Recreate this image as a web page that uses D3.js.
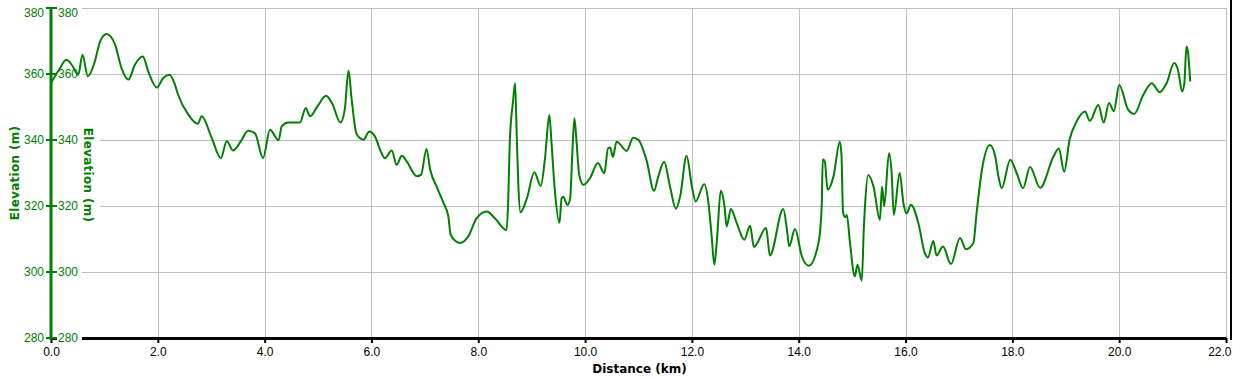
<!DOCTYPE html>
<html>
<head>
<meta charset="utf-8">
<script src="https://cdn.jsdelivr.net/npm/d3@7/dist/d3.min.js"></script>
<style>
  html, body { margin: 0; padding: 0; background: #fff; }
  svg { display: block; }
</style>
</head>
<body>
<svg id="chart" width="1233" height="380"></svg>
<script>
// ---- data ----
const distanceKm = [0.00,0.14,0.29,0.40,0.51,0.59,0.69,0.82,0.92,1.04,1.20,1.32,1.45,1.57,1.72,1.82,1.98,2.10,2.22,2.32,2.38,2.57,2.75,2.82,3.01,3.18,3.29,3.41,3.55,3.69,3.82,3.97,4.10,4.26,4.32,4.44,4.66,4.77,4.85,5.00,5.15,5.26,5.42,5.50,5.57,5.63,5.72,5.85,5.96,6.08,6.16,6.25,6.38,6.47,6.57,6.66,6.85,6.93,7.03,7.10,7.22,7.35,7.44,7.48,7.58,7.66,7.81,7.97,8.16,8.31,8.53,8.56,8.59,8.65,8.69,8.72,8.75,8.79,8.91,9.05,9.17,9.25,9.33,9.37,9.43,9.52,9.56,9.59,9.67,9.72,9.76,9.80,9.84,9.89,9.97,10.09,10.24,10.36,10.43,10.47,10.52,10.59,10.78,10.90,11.00,11.15,11.29,11.37,11.48,11.59,11.70,11.78,11.90,12.00,12.07,12.23,12.31,12.37,12.42,12.47,12.54,12.61,12.65,12.73,12.84,12.98,13.09,13.16,13.39,13.46,13.71,13.78,13.82,13.93,14.06,14.19,14.37,14.43,14.45,14.49,14.54,14.65,14.77,14.80,14.83,14.87,14.90,14.96,15.05,15.10,15.18,15.22,15.24,15.30,15.40,15.52,15.56,15.60,15.69,15.74,15.78,15.89,15.96,16.02,16.10,16.24,16.36,16.42,16.52,16.58,16.70,16.85,17.02,17.13,17.27,17.33,17.43,17.58,17.68,17.74,17.80,17.96,18.08,18.20,18.33,18.52,18.77,18.87,18.97,19.07,19.20,19.36,19.45,19.61,19.71,19.81,19.90,20.00,20.17,20.28,20.45,20.61,20.76,20.89,21.03,21.10,21.18,21.22,21.26,21.29,21.33];
const elevationM = [357.3,361.0,364.3,362.5,359.8,365.8,359.3,363.8,369.9,372.1,368.9,361.8,358.3,362.8,365.3,360.8,355.9,358.8,359.8,356.8,353.7,347.7,344.9,347.2,340.6,334.5,339.6,336.8,339.5,342.8,342.0,334.5,343.1,339.9,344.1,345.3,345.3,349.7,347.2,350.5,353.4,351.2,345.3,349.2,361.0,352.2,341.9,340.1,342.6,340.6,337.1,334.5,336.8,332.5,335.2,333.5,329.0,329.5,337.3,331.0,325.9,320.9,316.8,311.5,309.3,308.8,310.7,316.3,318.3,316.3,312.7,321.3,339.5,351.6,357.2,341.5,326.4,318.1,322.3,330.2,326.1,334.5,347.6,339.5,325.4,314.9,322.3,322.8,320.3,322.3,335.5,346.6,339.5,329.4,326.4,328.4,333.0,329.9,337.5,337.7,334.9,339.5,336.7,340.7,340.0,333.9,324.6,328.9,333.4,325.9,319.2,322.9,335.2,325.9,321.4,326.6,320.9,310.8,302.2,310.0,324.6,319.9,313.8,319.1,314.8,309.8,314.0,307.6,313.3,305.0,319.1,312.8,307.8,313.0,304.7,301.9,308.8,319.9,334.2,333.4,324.9,328.9,339.5,335.5,318.0,316.6,317.3,308.8,298.7,302.2,297.4,313.7,319.8,329.4,325.9,315.8,325.9,319.9,336.0,330.0,317.3,330.0,320.9,317.7,320.4,314.8,305.8,304.4,309.4,305.0,307.7,302.4,310.3,306.9,308.8,317.8,330.9,338.5,335.0,328.9,325.4,334.0,330.0,325.4,331.8,325.5,335.0,337.4,330.4,340.0,345.5,348.6,345.8,350.6,345.3,351.2,348.7,356.7,349.1,347.9,353.6,357.2,354.5,357.3,363.3,361.3,354.7,357.3,368.3,366.3,357.7];
const xTickValues = [0,2,4,6,8,10,12,14,16,18,20,22];
const yTickValues = [280,300,320,340,360,380];
const xTitle = "Distance (km)";
const yTitle = "Elevation (m)";

// ---- layout ----
const svg = d3.select("#chart");
const pLeft = 51, pRight = 1226, pTop = 8, pBottom = 338;
const x = d3.scaleLinear().domain([0, 22]).range([pLeft, pRight]);
const y = d3.scaleLinear().domain([280, 380]).range([pBottom, pTop]);
const green = "#008000";
const gridColor = "#c0c0c0";
const labelFont = "'Liberation Sans', Arial, sans-serif";
const titleFont = "'DejaVu Sans', Verdana, sans-serif";

// gridlines
const g = svg.append("g");
g.selectAll("line.vg").data(xTickValues.filter(d => d > 0)).join("line")
  .attr("x1", d => Math.round(x(d)) + 0.5).attr("x2", d => Math.round(x(d)) + 0.5)
  .attr("y1", pTop).attr("y2", pBottom)
  .attr("stroke", gridColor).attr("stroke-width", 1);
g.selectAll("line.hg").data(yTickValues.filter(d => d > 280)).join("line")
  .attr("x1", pLeft).attr("x2", pRight + 0.5)
  .attr("y1", d => Math.round(y(d)) + 0.5).attr("y2", d => Math.round(y(d)) + 0.5)
  .attr("stroke", gridColor).attr("stroke-width", 1);

// x axis (black)
const xAxis = d3.axisBottom(x).tickValues(xTickValues).tickFormat(d3.format(".1f"))
  .tickSizeInner(5).tickSizeOuter(0).tickPadding(4);
const xg = svg.append("g").attr("transform", `translate(0,${pBottom})`).call(xAxis);
xg.select(".domain").attr("stroke", "#000").attr("stroke-width", 3);
xg.selectAll(".tick line").attr("stroke", "#000").attr("stroke-width", 2);
xg.selectAll(".tick text").attr("fill", "#000").style("font-family", labelFont).style("font-size", "12px");
// last label is kept inside the picture (right-aligned, as in the reference)
xg.selectAll(".tick text").filter(d => d === 22)
  .attr("text-anchor", "end").attr("x", 1231 - x(22));

// white boxes behind the right-hand labels and title
const boxes = svg.append("g");
boxes.selectAll("rect").data(yTickValues).join("rect")
  .attr("x", 57).attr("y", d => Math.max(y(d), 12.5) - 7)
  .attr("width", 25).attr("height", 14).attr("fill", "#fff");
boxes.append("rect").attr("x", 81).attr("y", 119).attr("width", 19).attr("height", 113).attr("fill", "#fff");

// elevation line
const line = d3.line().x((d, i) => x(distanceKm[i])).y((d, i) => y(elevationM[i])).curve(d3.curveMonotoneX);
svg.append("path").datum(elevationM).attr("d", line)
  .attr("fill", "none").attr("stroke", green).attr("stroke-width", 2).attr("stroke-linejoin", "round");

// green y axis
svg.append("line").attr("x1", pLeft).attr("x2", pLeft).attr("y1", pTop - 1).attr("y2", pBottom + 2)
  .attr("stroke", green).attr("stroke-width", 3);
svg.append("g").selectAll("line").data(yTickValues).join("line")
  .attr("x1", 46).attr("x2", 57)
  .attr("y1", d => y(d)).attr("y2", d => y(d))
  .attr("stroke", green).attr("stroke-width", 2);

// y labels left and right
const yl = svg.append("g").style("font-family", labelFont).style("font-size", "12px").attr("fill", green);
yl.selectAll("text.l").data(yTickValues).join("text")
  .attr("x", 44).attr("y", d => Math.max(y(d), 12.5)).attr("dy", "0.35em")
  .attr("text-anchor", "end").text(d => d);
yl.selectAll("text.r").data(yTickValues).join("text")
  .attr("x", 58).attr("y", d => Math.max(y(d), 12.5)).attr("dy", "0.35em")
  .attr("text-anchor", "start").text(d => d);

// titles
const midY = (pTop + pBottom) / 2;
svg.append("text").attr("transform", `translate(19,${midY}) rotate(-90)`)
  .attr("text-anchor", "middle")
  .style("font-family", titleFont).style("font-size", "12px").style("font-weight", "bold")
  .style("letter-spacing", "0.3px").attr("fill", green).text(yTitle);
svg.append("text").attr("transform", `translate(84,${midY + 2}) rotate(90)`)
  .attr("text-anchor", "middle")
  .style("font-family", titleFont).style("font-size", "12px").style("font-weight", "bold")
  .style("letter-spacing", "0.3px").attr("fill", green).text(yTitle);
svg.append("text").attr("x", (pLeft + pRight) / 2 + 1).attr("y", 373)
  .attr("text-anchor", "middle")
  .style("font-family", titleFont).style("font-size", "12px").style("font-weight", "bold")
  .attr("fill", "#000").text(xTitle);

// right frame line
svg.append("line").attr("x1", 1231).attr("x2", 1231).attr("y1", 0).attr("y2", pBottom + 2)
  .attr("stroke", "#000").attr("stroke-width", 2);
</script>
</body>
</html>
